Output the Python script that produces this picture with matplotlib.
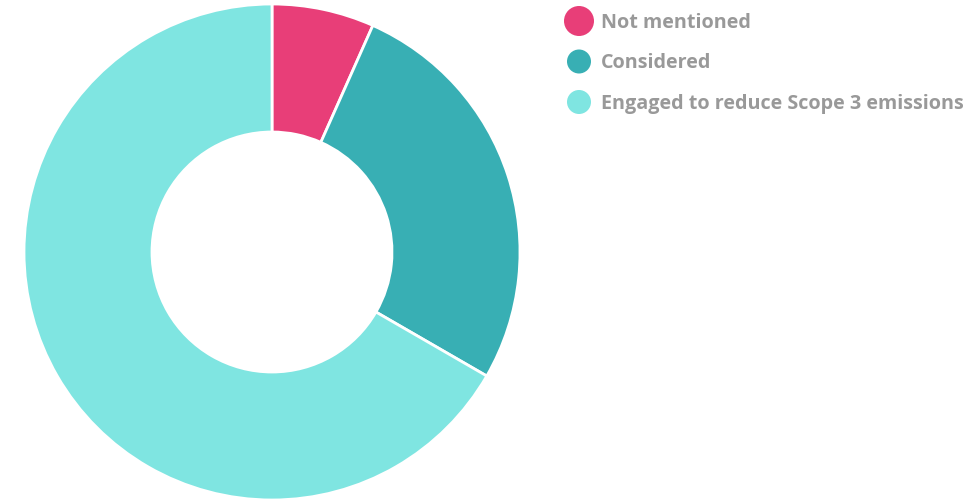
import matplotlib
matplotlib.use('Agg')
import matplotlib.pyplot as plt

labels = ['Not mentioned', 'Considered', 'Engaged to reduce Scope 3 emissions']
values = [1, 4, 10]
colors = ['#E83E78', '#38AFB4', '#7FE5E1']

W, H = 972, 504
fig = plt.figure(figsize=(W / 100, H / 100), dpi=100)

# donut: center (272, 252) px, outer radius 248 px
cx, cy, r = 272, 252, 248
ax = fig.add_axes([(cx - r) / W, (H - cy - r) / H, 2 * r / W, 2 * r / H])
ax.pie(values, colors=colors, startangle=90, counterclock=False, radius=1,
       wedgeprops=dict(width=1 - 120 / 248, edgecolor='white', linewidth=2))
ax.set_xlim(-1, 1)
ax.set_ylim(-1, 1)
ax.set_aspect('equal')
ax.axis('off')

# legend drawn by hand in pixel coordinates
lax = fig.add_axes([0, 0, 1, 1])
lax.set_xlim(0, W)
lax.set_ylim(H, 0)
lax.axis('off')
sizes = [15, 12, 12]
for i, (lab, col) in enumerate(zip(labels, colors)):
    y = 21 + i * 40.5
    lax.add_patch(plt.Circle((579, y), sizes[i], color=col, lw=0))
    lax.text(601, y + 1.5, lab, fontsize=14.2, fontweight='bold', family='Open Sans',
             color='#999999', va='center', ha='left')

fig.savefig('out.png', dpi=100)
